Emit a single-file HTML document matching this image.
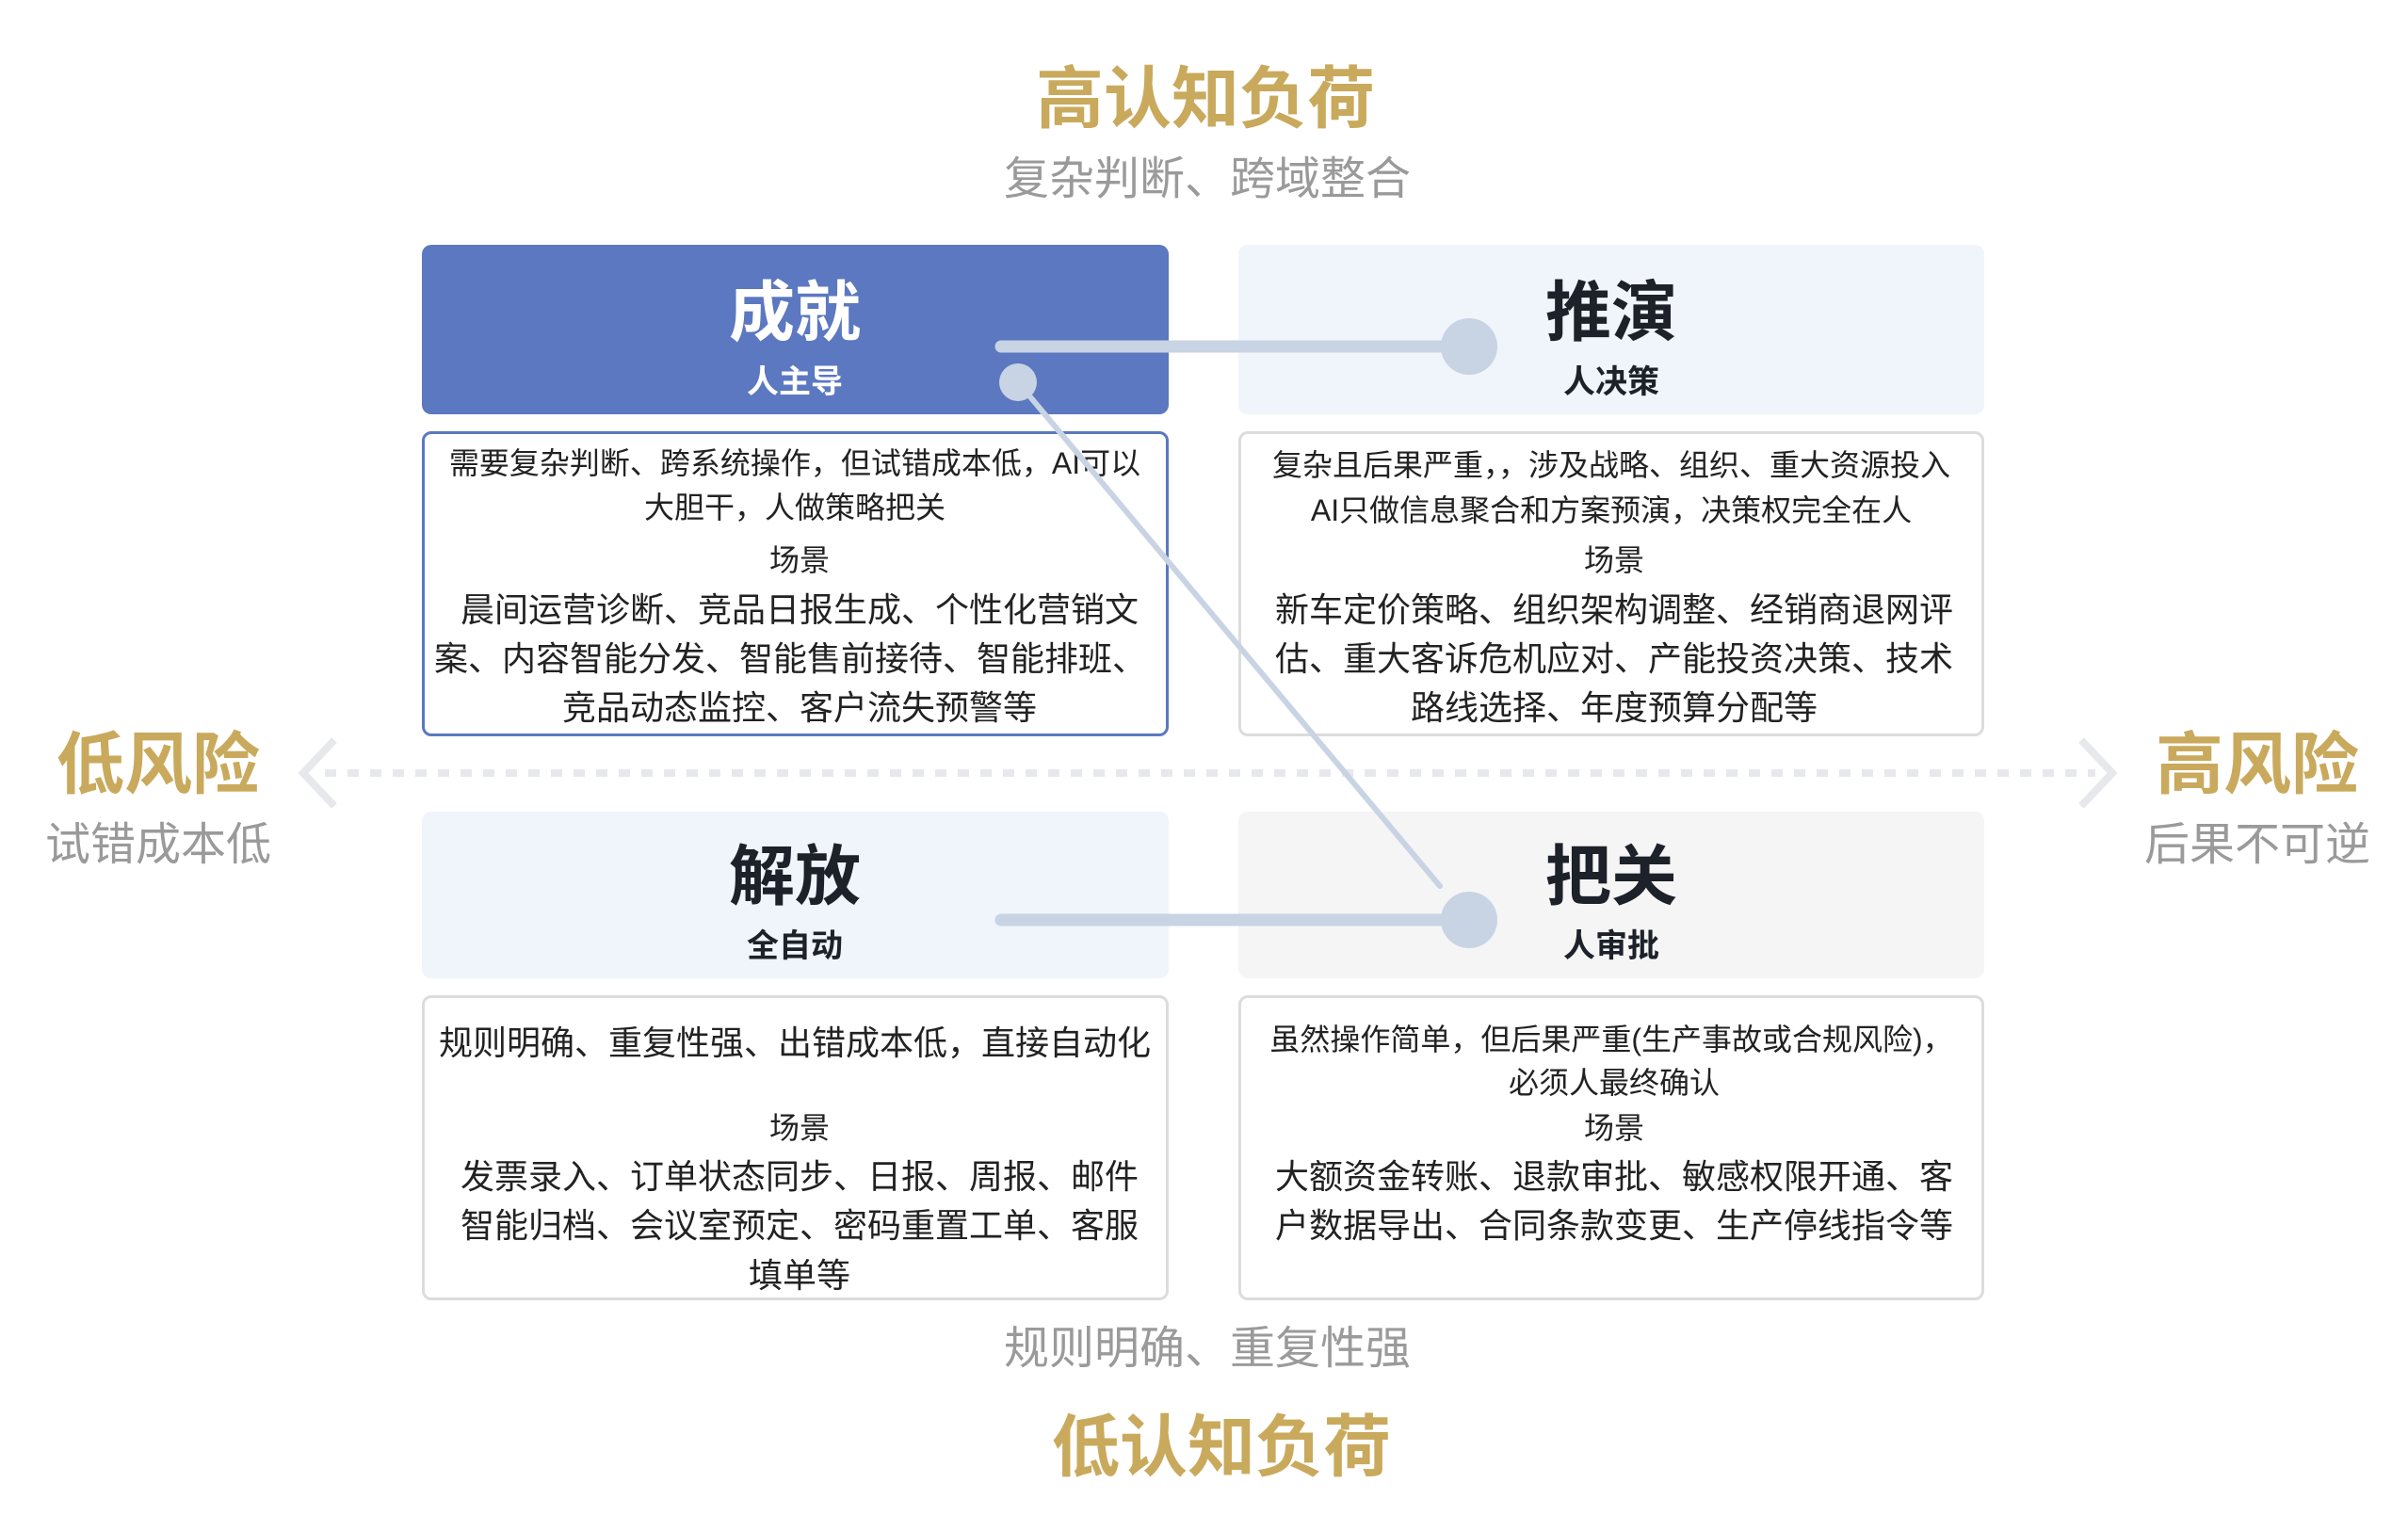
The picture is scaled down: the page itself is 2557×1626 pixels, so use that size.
<!DOCTYPE html>
<html><head><meta charset="utf-8"><style>
body{margin:0;width:2557px;height:1626px;background:#fff;position:relative;overflow:hidden;font-family:"Liberation Sans","Noto Sans CJK SC",sans-serif;}
.a{position:absolute;white-space:nowrap;}
.c{text-align:center;transform:translateX(-50%);}
.gold{color:#c9a95c;font-weight:bold;font-size:72px;line-height:1;}
.gray{color:#9a9a9a;font-size:48px;line-height:1;}
.hd{position:absolute;border-radius:10px;}
.bx{position:absolute;border:3px solid #dcdcdc;border-radius:10px;background:#fff;box-sizing:border-box;}
.t{font-weight:bold;font-size:70px;line-height:1;}
.s{font-weight:bold;font-size:34px;line-height:1;}
.l{font-size:32px;line-height:1;color:#222;}
.L{font-size:36px;line-height:1;color:#222;}
#w{position:absolute;left:-4px;top:0;width:2557px;height:1626px;}
</style></head><body>
<div class="a c gold" style="left:1280px;top:70px">高认知负荷</div>
<div class="a c gray" style="left:1282px;top:167px">复杂判断、跨域整合</div>
<div class="a c gold" style="left:1297px;top:1502px">低认知负荷</div>
<div class="a c gray" style="left:1282px;top:1409px">规则明确、重复性强</div>
<div class="a c gold" style="left:168px;top:777px">低风险</div>
<div class="a c gray" style="left:168px;top:874px">试错成本低</div>
<div class="a c gold" style="left:2397px;top:777px">高风险</div>
<div class="a c gray" style="left:2397px;top:874px">后果不可逆</div>

<svg class="a" style="left:0;top:0" width="2557" height="1626">
<line x1="345" y1="821" x2="2225" y2="821" stroke="#e6e8ec" stroke-width="8" stroke-dasharray="12 12"/>
<polyline points="355,786 322,821 355,856" fill="none" stroke="#e6e8ec" stroke-width="8"/>
<polyline points="2210,786 2243,821 2210,856" fill="none" stroke="#e6e8ec" stroke-width="8"/>
</svg>

<div id="w">
<div class="hd" style="left:452px;top:260px;width:793px;height:180px;background:#5b78c0"></div>
<div class="hd" style="left:1319px;top:260px;width:792px;height:180px;background:#f0f4fb"></div>
<div class="hd" style="left:452px;top:862px;width:793px;height:177px;background:#f0f4fb"></div>
<div class="hd" style="left:1319px;top:862px;width:792px;height:177px;background:#f5f5f5"></div>

<div class="a c t" style="left:848px;top:297px;color:#fff">成就</div>
<div class="a c s" style="left:848px;top:389px;color:#fff">人主导</div>
<div class="a c t" style="left:1715px;top:297px;color:#1d2129">推演</div>
<div class="a c s" style="left:1715px;top:389px;color:#1d2129">人决策</div>
<div class="a c t" style="left:848px;top:896px;color:#1d2129">解放</div>
<div class="a c s" style="left:848px;top:988px;color:#1d2129">全自动</div>
<div class="a c t" style="left:1715px;top:896px;color:#1d2129">把关</div>
<div class="a c s" style="left:1715px;top:988px;color:#1d2129">人审批</div>

<div class="bx" style="left:452px;top:458px;width:793px;height:324px;border-color:#5b78c0"></div>
<div class="bx" style="left:1319px;top:458px;width:792px;height:324px"></div>
<div class="bx" style="left:452px;top:1057px;width:793px;height:324px"></div>
<div class="bx" style="left:1319px;top:1057px;width:792px;height:324px"></div>

<div class="a c l" style="left:848px;top:476px">需要复杂判断、跨系统操作，但试错成本低，AI可以</div>
<div class="a c l" style="left:848px;top:523px">大胆干，人做策略把关</div>
<div class="a c l" style="left:853px;top:579px">场景</div>
<div class="a c L" style="left:853px;top:630px">晨间运营诊断、竞品日报生成、个性化营销文</div>
<div class="a c L" style="left:843px;top:682px">案、内容智能分发、智能售前接待、智能排班、</div>
<div class="a c L" style="left:853px;top:734px">竞品动态监控、客户流失预警等</div>

<div class="a c l" style="left:1715px;top:478px">复杂且后果严重，，涉及战略、组织、重大资源投入</div>
<div class="a c l" style="left:1715px;top:526px">AI只做信息聚合和方案预演，决策权完全在人</div>
<div class="a c l" style="left:1718px;top:579px">场景</div>
<div class="a c L" style="left:1718px;top:630px">新车定价策略、组织架构调整、经销商退网评</div>
<div class="a c L" style="left:1718px;top:682px">估、重大客诉危机应对、产能投资决策、技术</div>
<div class="a c L" style="left:1718px;top:734px">路线选择、年度预算分配等</div>

<div class="a c L" style="left:848px;top:1090px">规则明确、重复性强、出错成本低，直接自动化</div>
<div class="a c l" style="left:853px;top:1182px">场景</div>
<div class="a c L" style="left:853px;top:1232px">发票录入、订单状态同步、日报、周报、邮件</div>
<div class="a c L" style="left:853px;top:1284px">智能归档、会议室预定、密码重置工单、客服</div>
<div class="a c L" style="left:853px;top:1337px">填单等</div>

<div class="a c l" style="left:1715px;top:1088px">虽然操作简单，但后果严重(生产事故或合规风险)，</div>
<div class="a c l" style="left:1718px;top:1134px">必须人最终确认</div>
<div class="a c l" style="left:1718px;top:1182px">场景</div>
<div class="a c L" style="left:1718px;top:1232px">大额资金转账、退款审批、敏感权限开通、客</div>
<div class="a c L" style="left:1718px;top:1284px">户数据导出、合同条款变更、生产停线指令等</div>

<svg class="a" style="left:0;top:0" width="2557" height="1626">
<g stroke="#c8d3e3" stroke-linecap="round" fill="#c8d3e3">
<line x1="1067" y1="368" x2="1564" y2="368" stroke-width="13"/>
<circle cx="1564" cy="368" r="30" stroke="none"/>
<line x1="1085" y1="406" x2="1533" y2="941" stroke-width="6"/>
<circle cx="1085" cy="406" r="20" stroke="none"/>
<line x1="1067" y1="977" x2="1564" y2="977" stroke-width="13"/>
<circle cx="1564" cy="977" r="30" stroke="none"/>
</g>
</svg>
</div>
</body></html>
